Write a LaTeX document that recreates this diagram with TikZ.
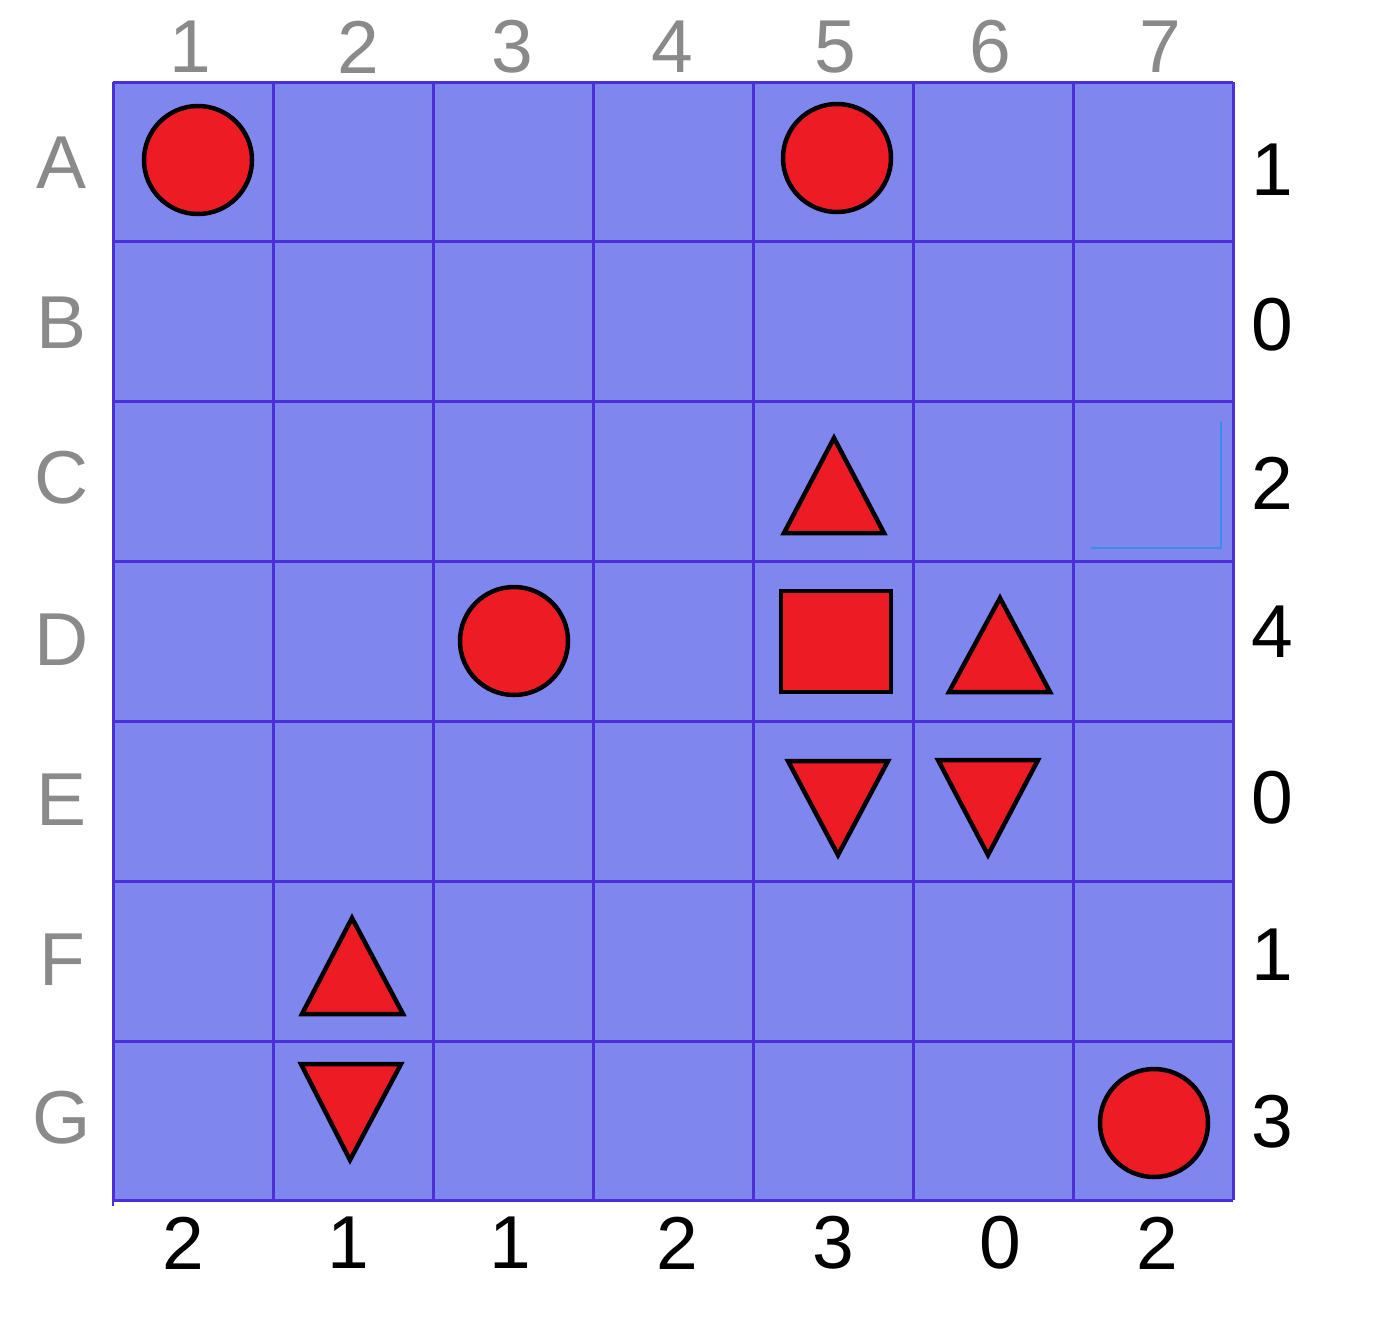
\documentclass[tikz,border=0pt]{standalone}
\usepackage{fontspec}
\setmainfont{Liberation Sans}
\definecolor{cellfill}{HTML}{7F86EE}
\definecolor{gridline}{HTML}{4A30D9}
\definecolor{piece}{HTML}{ED1C24}
\definecolor{hdr}{HTML}{8A8A8A}
\definecolor{oddline}{HTML}{3A8CF0}
\begin{document}
\begin{tikzpicture}[x=1pt,y=-1pt,
  gridstyle/.style={draw=gridline,line width=3pt},
  piecestyle/.style={fill=piece,draw=black,line width=4.5pt,line join=miter},
  hdrlabel/.style={text=hdr,font=\fontsize{75}{75}\selectfont,inner sep=0pt},
  cntlabel/.style={text=black,font=\fontsize{75}{75}\selectfont,inner sep=0pt}]
\useasboundingbox (0,0) rectangle (1384,1320);
% board
\fill[cellfill] (113,82) rectangle (1233,1200);
\foreach \x in {113,273,433,593,753,913,1073,1233}
  \draw[gridstyle] (\x,82) -- (\x,1200);
\foreach \y in {82,241,401,561,721,881,1041,1200}
  \draw[gridstyle] (113,\y) -- (1233,\y);
\draw[draw=gridline,line width=2pt] (113,1200) -- (113,1206);
\draw[draw=oddline,line width=1.5pt] (1221,421) -- (1221,548) -- (1091,548);
% column headers
\foreach \x/\t [count=\i] in {190/1,358/2,512/3,672/4,835/5,990/6,1160/7}
  \node[hdrlabel] (col\i) at (\x,47) {\t};
% row headers
\foreach \y/\t [count=\i] in {163/A,323/B,478/C,640/D,800/E,960/F,1118/G}
  \node[hdrlabel] (row\i) at (62,\y) {\t};
% right counts
\foreach \y/\t [count=\i] in {170/1,325/0,483/2,632/4,798/0,955/1,1122/3}
  \node[cntlabel] (rc\i) at (1272,\y) {\t};
% bottom counts
\foreach \x/\t [count=\i] in {183/2,348/1,510/1,677/2,833/3,1000/0,1157/2}
  \node[cntlabel] (bc\i) at (\x,1243) {\t};
% circles
\draw[piecestyle] (198,160) circle (54);
\draw[piecestyle] (837,158) circle (54);
\draw[piecestyle] (514,641) circle (54);
\draw[piecestyle] (1154,1123) circle (54);
% square
\draw[piecestyle] (781,591) rectangle (891,692);
% up triangles
\draw[piecestyle] (834,438) -- (884,533) -- (784,533) -- cycle;
\draw[piecestyle] (1000,598) -- (1050,692) -- (949,692) -- cycle;
\draw[piecestyle] (352,918) -- (403,1014) -- (302,1014) -- cycle;
% down triangles
\draw[piecestyle] (788,761) -- (888,761) -- (838,855) -- cycle;
\draw[piecestyle] (938,760) -- (1038,760) -- (988,855) -- cycle;
\draw[piecestyle] (301,1064) -- (401,1064) -- (350,1160) -- cycle;
\end{tikzpicture}
\end{document}
